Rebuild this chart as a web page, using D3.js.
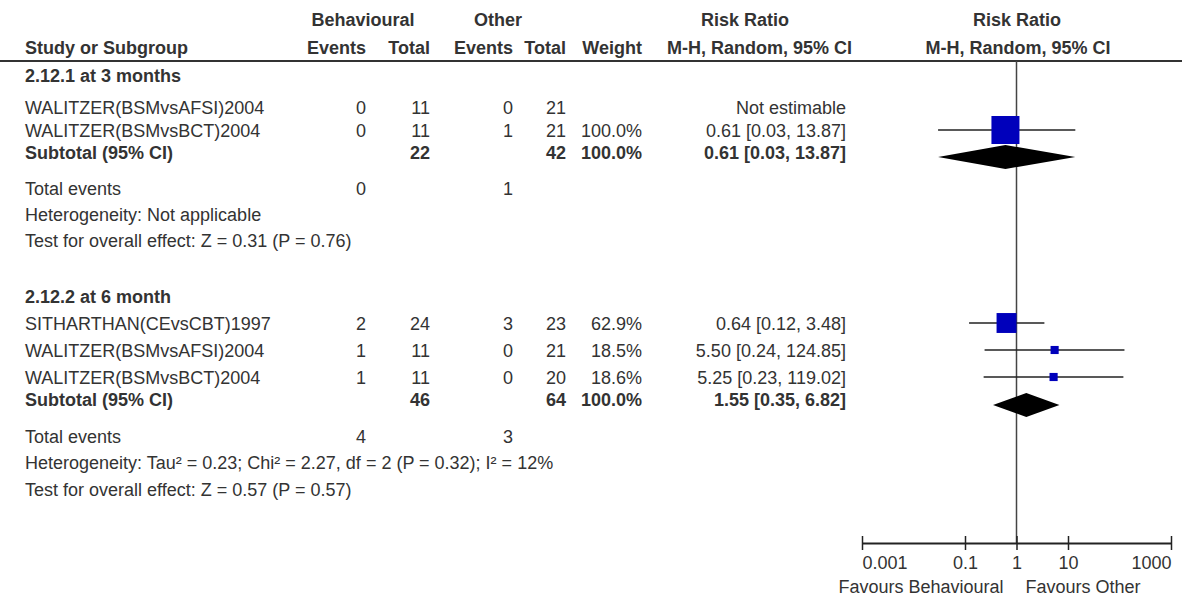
<!DOCTYPE html>
<html>
<head>
<meta charset="utf-8">
<script src="https://cdn.jsdelivr.net/npm/d3@7"></script>
<style>
  html, body { margin: 0; padding: 0; background: #fff; }
  svg { display: block; }
  text { font-family: "Liberation Sans", Arial, Helvetica, sans-serif; font-size: 18px; fill: #333; }
  .b { font-weight: bold; }
</style>
</head>
<body>
<svg id="chart" width="1182" height="599"></svg>
<script>
// ---------------- DATA ----------------
const groupTitles = ["2.12.1 at 3 months", "2.12.2 at 6 month"];

const g1Studies   = ["WALITZER(BSMvsAFSI)2004", "WALITZER(BSMvsBCT)2004"];
const g1BehEvents = [0, 0];
const g1BehTotal  = [11, 11];
const g1OthEvents = [0, 1];
const g1OthTotal  = [21, 21];
const g1Weight    = [null, 100.0];
const g1RR        = [null, 0.61];
const g1Lo        = [null, 0.03];
const g1Hi        = [null, 13.87];

const g2Studies   = ["SITHARTHAN(CEvsCBT)1997", "WALITZER(BSMvsAFSI)2004", "WALITZER(BSMvsBCT)2004"];
const g2BehEvents = [2, 1, 1];
const g2BehTotal  = [24, 11, 11];
const g2OthEvents = [3, 0, 0];
const g2OthTotal  = [23, 21, 20];
const g2Weight    = [62.9, 18.5, 18.6];
const g2RR        = [0.64, 5.50, 5.25];
const g2Lo        = [0.12, 0.24, 0.23];
const g2Hi        = [3.48, 124.85, 119.02];

// subtotals: [group1, group2]
const subBehTotal  = [22, 46];
const subOthTotal  = [42, 64];
const subWeight    = [100.0, 100.0];
const subRR        = [0.61, 1.55];
const subLo        = [0.03, 0.35];
const subHi        = [13.87, 6.82];
const totBehEvents = [0, 4];
const totOthEvents = [1, 3];
const heterogeneity = ["Heterogeneity: Not applicable",
  "Heterogeneity: Tau\u00B2 = 0.23; Chi\u00B2 = 2.27, df = 2 (P = 0.32); I\u00B2 = 12%"];
const overallEffect = ["Test for overall effect: Z = 0.31 (P = 0.76)",
  "Test for overall effect: Z = 0.57 (P = 0.57)"];

const axisTicks = [0.001, 0.1, 1, 10, 1000];
const axisTickLabels = ["0.001", "0.1", "1", "10", "1000"];
const favoursLeft = "Favours Behavioural";
const favoursRight = "Favours Other";

// ---------------- LAYOUT ----------------
const svg = d3.select("#chart");
const W = 1182, H = 599;
svg.append("rect").attr("width", W).attr("height", H).attr("fill", "#fff");

const col = { name: 25, be: 366, bt: 430, oe: 513, ot: 566, w: 642, ci: 846 };
const x = d3.scaleLog().domain([0.001, 1000]).range([862, 1171]);
const sizeScale = d3.scalePow().exponent(0.735).domain([0, 100]).range([0, 28]);
const f2 = d3.format(".2f"), f1 = d3.format(".1f");
const BL = 6; // baseline offset from visual centre

function txt(s, xx, yc, anchor, bold) {
  svg.append("text").attr("x", xx).attr("y", yc + BL)
    .attr("text-anchor", anchor || "start")
    .attr("class", bold ? "b" : null).text(s);
}
function ciText(rr, lo, hi) {
  return rr == null ? "Not estimable" : `${f2(rr)} [${f2(lo)}, ${f2(hi)}]`;
}

// headers
txt("Behavioural", 363, 20, "middle", true);
txt("Other", 498, 20, "middle", true);
txt("Risk Ratio", 745, 20, "middle", true);
txt("Risk Ratio", 1017, 20, "middle", true);
txt("Study or Subgroup", col.name, 48, "start", true);
txt("Events", col.be, 48, "end", true);
txt("Total", col.bt, 48, "end", true);
txt("Events", col.oe, 48, "end", true);
txt("Total", col.ot, 48, "end", true);
txt("Weight", col.w, 48, "end", true);
txt("M-H, Random, 95% CI", 852, 48, "end", true);
txt("M-H, Random, 95% CI", 1018, 48, "middle", true);

svg.append("line").attr("x1", 0).attr("x2", W).attr("y1", 61).attr("y2", 61)
  .attr("stroke", "#333").attr("stroke-width", 2);

const axisY = 543;
// vertical line of no effect
svg.append("line").attr("x1", x(1)).attr("x2", x(1)).attr("y1", 61).attr("y2", axisY)
  .attr("stroke", "#444").attr("stroke-width", 1.5);

const groups = [
  { title: groupTitles[0], studies: g1Studies, be: g1BehEvents, bt: g1BehTotal, oe: g1OthEvents, ot: g1OthTotal,
    w: g1Weight, rr: g1RR, lo: g1Lo, hi: g1Hi,
    yTitle: 76, yRows: [107, 130], ySubText: 153, ySub: 157, yTot: 189, yHet: 215, yTest: 241 },
  { title: groupTitles[1], studies: g2Studies, be: g2BehEvents, bt: g2BehTotal, oe: g2OthEvents, ot: g2OthTotal,
    w: g2Weight, rr: g2RR, lo: g2Lo, hi: g2Hi,
    yTitle: 297, yRows: [323, 350, 377], ySubText: 400, ySub: 405, yTot: 437, yHet: 463, yTest: 490 }
];

groups.forEach((g, gi) => {
  txt(g.title, col.name, g.yTitle, "start", true);
  g.studies.forEach((s, i) => {
    const y = g.yRows[i];
    txt(s, col.name, y + 1, "start");
    txt(g.be[i], col.be, y + 1, "end");
    txt(g.bt[i], col.bt, y + 1, "end");
    txt(g.oe[i], col.oe, y + 1, "end");
    txt(g.ot[i], col.ot, y + 1, "end");
    if (g.w[i] != null) txt(f1(g.w[i]) + "%", col.w, y + 1, "end");
    txt(ciText(g.rr[i], g.lo[i], g.hi[i]), col.ci, y + 1, "end");
    if (g.rr[i] != null) {
      svg.append("line").attr("x1", x(g.lo[i])).attr("x2", x(g.hi[i]))
        .attr("y1", y).attr("y2", y).attr("stroke", "#222").attr("stroke-width", 1.6);
      const s2 = sizeScale(g.w[i]);
      svg.append("rect").attr("x", x(g.rr[i]) - s2 / 2).attr("y", y - s2 / 2)
        .attr("width", s2).attr("height", s2).attr("fill", "#0000BB");
    }
  });
  // subtotal
  const yt = g.ySubText, ys = g.ySub;
  txt("Subtotal (95% CI)", col.name, yt, "start", true);
  txt(subBehTotal[gi], col.bt, yt, "end", true);
  txt(subOthTotal[gi], col.ot, yt, "end", true);
  txt(f1(subWeight[gi]) + "%", col.w, yt, "end", true);
  txt(ciText(subRR[gi], subLo[gi], subHi[gi]), col.ci, yt, "end", true);
  const dh = 12;
  const pts = [[x(subLo[gi]), ys], [x(subRR[gi]), ys - dh], [x(subHi[gi]), ys], [x(subRR[gi]), ys + dh]];
  svg.append("path").attr("d", "M" + pts.map(p => p.join(",")).join("L") + "Z").attr("fill", "#000");

  txt("Total events", col.name, g.yTot, "start");
  txt(totBehEvents[gi], col.be, g.yTot, "end");
  txt(totOthEvents[gi], col.oe, g.yTot, "end");
  txt(heterogeneity[gi], col.name, g.yHet, "start");
  txt(overallEffect[gi], col.name, g.yTest, "start");
});

// axis
const axis = d3.axisBottom(x).tickValues(axisTicks)
  .tickFormat((d, i) => axisTickLabels[i]).tickSizeOuter(0).tickSizeInner(7);
const ag = svg.append("g").attr("transform", `translate(0,${axisY})`).call(axis);
ag.select(".domain").attr("stroke", "#222").attr("stroke-width", 2);
ag.selectAll(".tick line").attr("y1", -7).attr("y2", 7).attr("stroke", "#222").attr("stroke-width", 1.5);
ag.selectAll(".tick text").attr("y", 26).attr("dy", 0)
  .style("font-family", '"Liberation Sans", Arial, sans-serif').style("font-size", "18px").attr("fill", "#333")
  .attr("text-anchor", (d, i) => i === 0 ? "start" : (i === axisTicks.length - 1 ? "end" : "middle"));

txt(favoursLeft, x(1) - 13, 587, "end");
txt(favoursRight, x(1) + 9, 587, "start");
</script>
</body>
</html>
